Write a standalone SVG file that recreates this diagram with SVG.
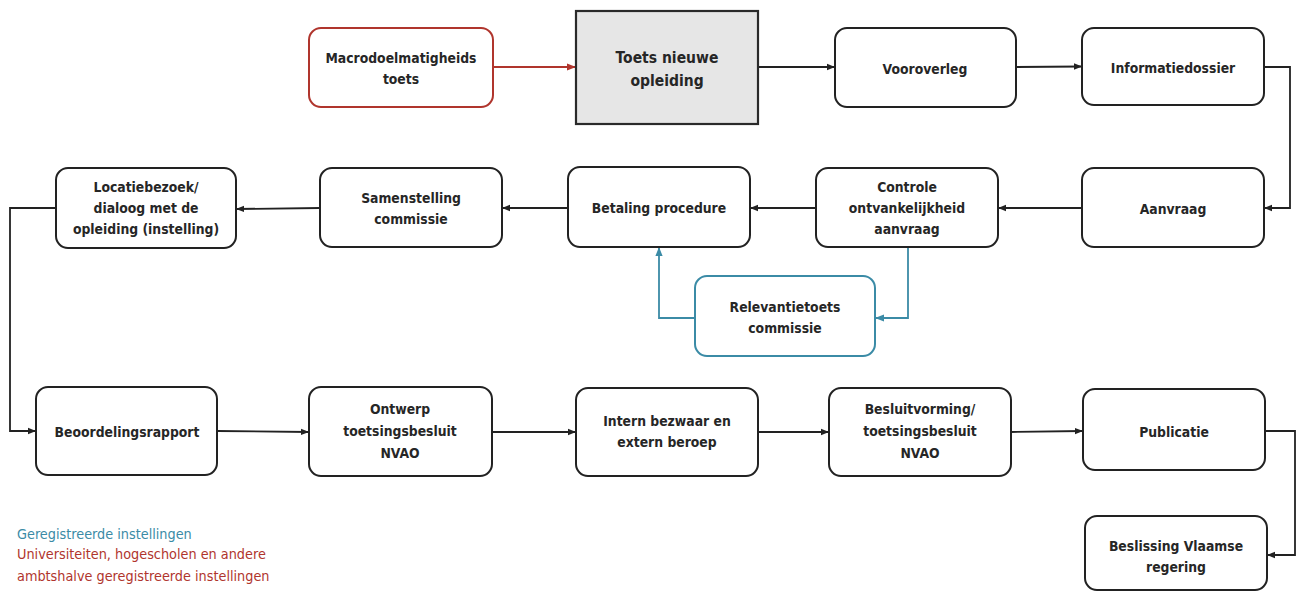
<svg xmlns="http://www.w3.org/2000/svg" width="1300" height="592" viewBox="0 0 1300 592">
  <style>
    .box { fill: #ffffff; stroke: #222222; stroke-width: 2; }
    .red { stroke: #b0352d; }
    .teal { stroke: #3b8ba6; }
    .grey { fill: #e6e6e6; stroke: #2a2a2a; stroke-width: 2.2; }
    .lbl { font-family: "DejaVu Sans Condensed", "DejaVu Sans", sans-serif; font-weight: bold; font-size: 13.8px; fill: #262626; text-anchor: middle; }
    .big { font-size: 15.5px; }
    .edge { fill: none; stroke: #222222; stroke-width: 1.8; }
    .edge-red { fill: none; stroke: #b0352d; stroke-width: 1.8; }
    .edge-teal { fill: none; stroke: #3b8ba6; stroke-width: 1.8; }
    .legend { font-family: "DejaVu Sans Condensed", "DejaVu Sans", sans-serif; font-size: 14.3px; }
  </style>
  <defs>
    <marker id="arr" viewBox="0 0 10 10" refX="10" refY="5" markerWidth="8" markerHeight="8" markerUnits="userSpaceOnUse" orient="auto">
      <path d="M0,1 L10,5 L0,9 z" fill="#222222"/>
    </marker>
    <marker id="arr-red" viewBox="0 0 10 10" refX="10" refY="5" markerWidth="9" markerHeight="9" markerUnits="userSpaceOnUse" orient="auto">
      <path d="M0,1 L10,5 L0,9 z" fill="#b0352d"/>
    </marker>
    <marker id="arr-teal" viewBox="0 0 10 10" refX="10" refY="5" markerWidth="9" markerHeight="9" markerUnits="userSpaceOnUse" orient="auto">
      <path d="M0,1 L10,5 L0,9 z" fill="#3b8ba6"/>
    </marker>
  </defs>

  <rect width="1300" height="592" fill="#ffffff"/>

  <!-- connectors -->
  <g id="connectors">
    <path class="edge-red" d="M493,67 H576" marker-end="url(#arr-red)"/>
    <path class="edge" d="M758,67 H835" marker-end="url(#arr)"/>
    <path class="edge" d="M1016,67 L1082,66.5" marker-end="url(#arr)"/>
    <path class="edge" d="M1264,67 H1290 V208 H1264" marker-end="url(#arr)"/>
    <path class="edge" d="M1082,208 H998" marker-end="url(#arr)"/>
    <path class="edge" d="M816,208 H750" marker-end="url(#arr)"/>
    <path class="edge" d="M568,208 H502" marker-end="url(#arr)"/>
    <path class="edge" d="M320,208 L236,209" marker-end="url(#arr)"/>
    <path class="edge" d="M56,208 H10 V431 H36" marker-end="url(#arr)"/>
    <path class="edge" d="M217,431 L309,432" marker-end="url(#arr)"/>
    <path class="edge" d="M492,432 H576" marker-end="url(#arr)"/>
    <path class="edge" d="M758,432 H829" marker-end="url(#arr)"/>
    <path class="edge" d="M1011,432 L1083,431" marker-end="url(#arr)"/>
    <path class="edge" d="M1265,431 H1295 V555 H1267" marker-end="url(#arr)"/>
    <path class="edge-teal" d="M908,247 V318 H875" marker-end="url(#arr-teal)"/>
    <path class="edge-teal" d="M695,318 H659 V247" marker-end="url(#arr-teal)"/>
  </g>

  <g id="macrodoelmatigheid">
    <rect class="box red" x="309" y="28" width="184" height="79" rx="12"/>
    <text class="lbl" x="401" y="63">Macrodoelmatigheids</text>
    <text class="lbl" x="401" y="84">toets</text>
  </g>

  <g id="toets-nieuwe-opleiding">
    <rect class="grey" x="576" y="11" width="182" height="113"/>
    <text class="lbl big" x="667" y="63">Toets nieuwe</text>
    <text class="lbl big" x="667" y="86">opleiding</text>
  </g>

  <g id="vooroverleg">
    <rect class="box" x="835" y="28" width="181" height="79" rx="12"/>
    <text class="lbl" x="925" y="74">Vooroverleg</text>
  </g>

  <g id="informatiedossier">
    <rect class="box" x="1082" y="28" width="182" height="77" rx="12"/>
    <text class="lbl" x="1173" y="73">Informatiedossier</text>
  </g>

  <g id="aanvraag">
    <rect class="box" x="1082" y="168" width="182" height="79" rx="12"/>
    <text class="lbl" x="1173" y="214">Aanvraag</text>
  </g>

  <g id="controle">
    <rect class="box" x="816" y="168" width="182" height="79" rx="12"/>
    <text class="lbl" x="907" y="192">Controle</text>
    <text class="lbl" x="907" y="213">ontvankelijkheid</text>
    <text class="lbl" x="907" y="234">aanvraag</text>
  </g>

  <g id="betaling">
    <rect class="box" x="568" y="167" width="182" height="80" rx="12"/>
    <text class="lbl" x="659" y="213">Betaling procedure</text>
  </g>

  <g id="samenstelling">
    <rect class="box" x="320" y="168" width="182" height="79" rx="12"/>
    <text class="lbl" x="411" y="203">Samenstelling</text>
    <text class="lbl" x="411" y="224">commissie</text>
  </g>

  <g id="locatiebezoek">
    <rect class="box" x="56" y="168" width="180" height="80" rx="12"/>
    <text class="lbl" x="146" y="192">Locatiebezoek/</text>
    <text class="lbl" x="146" y="213">dialoog met de</text>
    <text class="lbl" x="146" y="234">opleiding (instelling)</text>
  </g>

  <g id="relevantietoets">
    <rect class="box teal" x="695" y="276" width="180" height="80" rx="12"/>
    <text class="lbl" x="785" y="312">Relevantietoets</text>
    <text class="lbl" x="785" y="333">commissie</text>
  </g>

  <g id="beoordelingsrapport">
    <rect class="box" x="36" y="387" width="181" height="88" rx="12"/>
    <text class="lbl" x="127" y="437">Beoordelingsrapport</text>
  </g>

  <g id="ontwerp">
    <rect class="box" x="309" y="387" width="183" height="89" rx="12"/>
    <text class="lbl" x="400" y="414">Ontwerp</text>
    <text class="lbl" x="400" y="436">toetsingsbesluit</text>
    <text class="lbl" x="400" y="458">NVAO</text>
  </g>

  <g id="intern-bezwaar">
    <rect class="box" x="576" y="388" width="182" height="88" rx="12"/>
    <text class="lbl" x="667" y="426">Intern bezwaar en</text>
    <text class="lbl" x="667" y="447">extern beroep</text>
  </g>

  <g id="besluitvorming">
    <rect class="box" x="829" y="388" width="182" height="88" rx="12"/>
    <text class="lbl" x="920" y="414">Besluitvorming/</text>
    <text class="lbl" x="920" y="436">toetsingsbesluit</text>
    <text class="lbl" x="920" y="458">NVAO</text>
  </g>

  <g id="publicatie">
    <rect class="box" x="1083" y="389" width="182" height="81" rx="12"/>
    <text class="lbl" x="1174" y="437">Publicatie</text>
  </g>

  <g id="beslissing">
    <rect class="box" x="1085" y="516" width="182" height="74" rx="12"/>
    <text class="lbl" x="1176" y="551">Beslissing Vlaamse</text>
    <text class="lbl" x="1176" y="572">regering</text>
  </g>

  <g id="legend" class="legend">
    <text x="17" y="539" fill="#3b8ba6">Geregistreerde instellingen</text>
    <text x="17" y="559" fill="#b0352d">Universiteiten, hogescholen en andere</text>
    <text x="17" y="581" fill="#b0352d">ambtshalve geregistreerde instellingen</text>
  </g>
</svg>
